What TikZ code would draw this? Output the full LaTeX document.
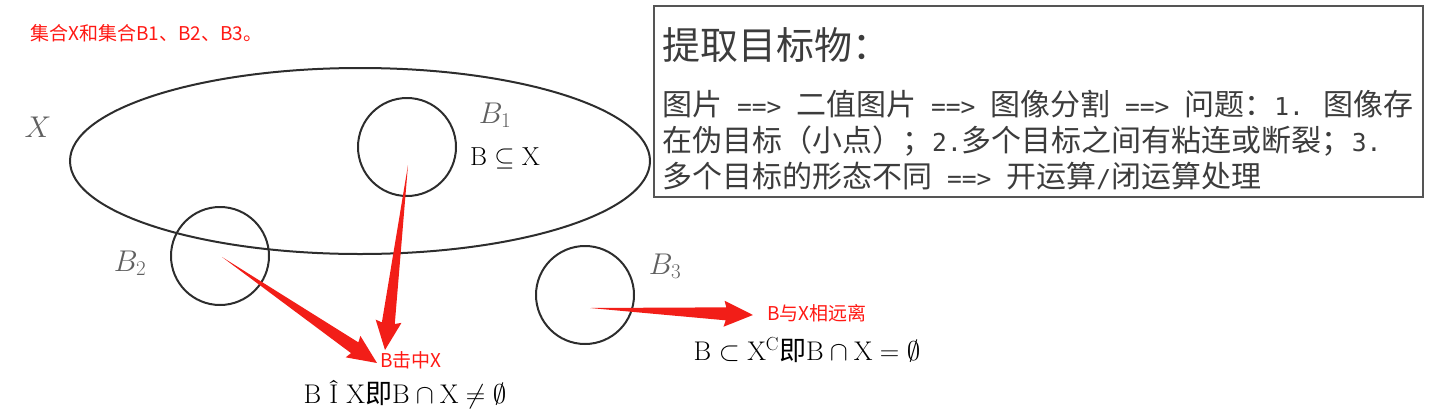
\RequirePackage{fix-cm}
\documentclass[tikz,border=0pt]{standalone}
\usepackage{fontspec}
\newfontfamily\cjk{Noto Sans CJK SC}
\newfontfamily\ascfont{DejaVu Sans Mono}[Scale=0.82]
\newcommand\asc[1]{{\ascfont #1}}
\usetikzlibrary{calc}

\definecolor{markred}{RGB}{255,25,20}
\definecolor{arrowred}{RGB}{242,30,24}
\definecolor{setgray}{RGB}{45,45,45}
\definecolor{labelgray}{RGB}{95,95,95}
\definecolor{panelgray}{RGB}{85,85,85}
\definecolor{paneltext}{RGB}{60,60,60}

% tapered red arrow from #1 to #2
\newcommand\taperarrow[2]{%
  \fill[arrowred] let \p1=($(#2)-(#1)$), \n1={atan2(\y1,\x1)}, \n2={veclen(\x1,\y1)} in
    [shift={(#1)},rotate=\n1] (0,0) -- (\n2-27,6.5) -- (\n2-29,13) -- (\n2,0)
    -- (\n2-29,-13) -- (\n2-27,-6.5) -- cycle;}

\begin{document}
\begin{tikzpicture}[x=1pt,y=-1pt,
  setline/.style={draw=setgray,line width=2},
  setcircle/.style={setline,circle,minimum size=98,inner sep=0},
  setlabel/.style={text=labelgray,font=\fontsize{30}{36}\selectfont},
  redlabel/.style={text=markred,font=\cjk\fontsize{19}{22}\selectfont,inner sep=0},
  mathlabel/.style={font=\fontsize{27}{32}\selectfont,inner sep=0}]
\useasboundingbox (0,0) rectangle (1445,418);

\node[redlabel,anchor=west] (caption) at (30,33) {集合X和集合B1、B2、B3。};

% the set X and the three probes
\draw[setline] (360,161) ellipse [x radius=290,y radius=93];
\node[setlabel] (xname) at (38,127) {$X$};
\node[setcircle] (b1) at (407,147) {};
\node[setcircle] (b2) at (220,256) {};
\node[setcircle] (b3) at (585,295) {};
\node[setlabel] (b1name) at (495,115) {$B_1$};
\node[setlabel] (b2name) at (130,263) {$B_2$};
\node[setlabel] (b3name) at (665,266) {$B_3$};

\node[mathlabel,font=\fontsize{26}{30}\selectfont] (inside) at (505,158) {$\mathrm{B}\subseteq\mathrm{X}$};
\node[redlabel] (hit) at (411,360) {B击中X};
\node[mathlabel] (hitmath) at (405,395) {B Î X{\cjk 即}$\mathrm{B}\cap\mathrm{X}\neq\emptyset$};
\node[redlabel] (far) at (817,313) {B与X相远离};
\node[mathlabel] (farmath) at (807,350) {$\mathrm{B}\subset\mathrm{X}^{\mathrm{C}}${\cjk 即}$\mathrm{B}\cap\mathrm{X}=\emptyset$};

\coordinate (b1 foot) at ($(b1)+(1,18)$);
\coordinate (b2 foot) at ($(b2)+(2,1)$);
\coordinate (b3 foot) at ($(b3)+(5,13)$);
\coordinate (hit tip1) at (385,350);
\coordinate (hit tip2) at (377,363);
\coordinate (far tip) at (753,315);
\taperarrow{b1 foot}{hit tip1}
\taperarrow{b2 foot}{hit tip2}
\taperarrow{b3 foot}{far tip}

% text panel
\node[draw=panelgray,line width=2,minimum width=769,minimum height=191,inner sep=0] (panel) at (1038.5,101.5) {};
\node[anchor=west,text=paneltext,font=\cjk\fontsize{38}{42}\selectfont,inner sep=0] (title) at (662,45) {提取目标物：};
\node[anchor=west,text=paneltext,align=left,font=\cjk\fontsize{30}{36}\selectfont,inner sep=0] (steps) at (662,140)
  {图片\asc{ ==> }二值图片\asc{ ==> }图像分割\asc{ ==> }问题：\asc{1. }图像存\\
   在伪目标（小点）；\asc{2.}多个目标之间有粘连或断裂；\asc{3.}\\
   多个目标的形态不同\asc{ ==> }开运算\asc{/}闭运算处理};
\end{tikzpicture}
\end{document}
